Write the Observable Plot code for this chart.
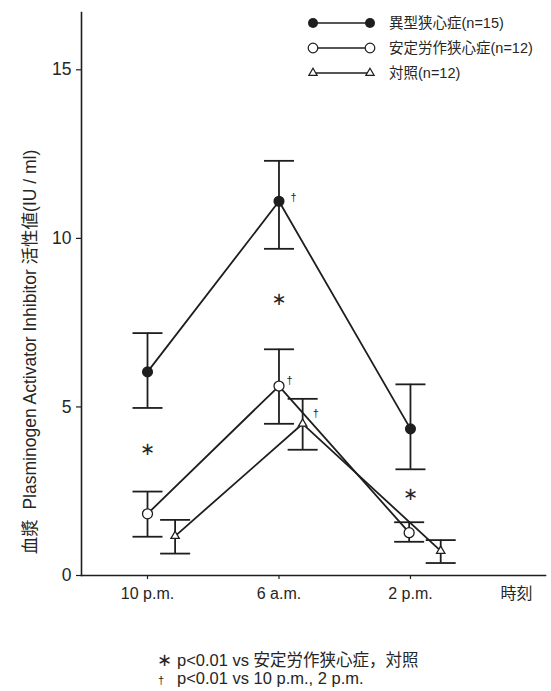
<!DOCTYPE html>
<html><head><meta charset="utf-8">
<script src="https://cdn.jsdelivr.net/npm/d3@7"></script>
<script src="https://cdn.jsdelivr.net/npm/@observablehq/plot@0.6"></script>
<style>
body{margin:0;background:#fff;}
#wrap{position:relative;width:551px;height:691px;font-family:"Liberation Sans","Noto Sans CJK JP",sans-serif;color:#262626;}
#wrap svg.plot{display:block;}
#legend{position:absolute;left:0;top:0;}
.cap{position:absolute;left:0;font-size:16.5px;white-space:nowrap;line-height:1;}
</style></head><body><div id="wrap"></div>
<script>
// ---- data ----
const times = ["10 p.m.", "6 a.m.", "2 p.m."];
const timeTicks = [0, 1, 2];
const seriesNames = ["異型狭心症(n=15)", "安定労作狭心症(n=12)", "対照(n=12)"];

const variantX = [0, 1, 2];
const variantMean = [6.04, 11.1, 4.35];
const variantLo = [4.97, 9.69, 3.15];
const variantHi = [7.19, 12.3, 5.67];

const stableX = [0, 1, 1.99];
const stableMean = [1.83, 5.62, 1.27];
const stableLo = [1.15, 4.50, 1.00];
const stableHi = [2.49, 6.71, 1.58];

const controlX = [0.21, 1.18, 2.23];
const controlMean = [1.17, 4.50, 0.73];
const controlLo = [0.65, 3.73, 0.37];
const controlHi = [1.65, 5.24, 1.05];

const starX = [0, 1, 2];
const starY = [3.75, 8.19, 2.40];
const daggerX = [1.11, 1.08, 1.28];
const daggerY = [11.2, 5.79, 4.8];

const yTicks = [0, 5, 10, 15];
const yLabel = "血漿  Plasminogen Activator Inhibitor 活性値(IU / ml)";
const xEndLabel = "時刻";
const footnotes = [
  {sym: "∗", text: "p<0.01 vs 安定労作狭心症，対照"},
  {sym: "†", text: "p<0.01 vs 10 p.m., 2 p.m."}
];

// ---- build table ----
function rows(name, xs, m, lo, hi) {
  return xs.map((x, i) => ({series: name, x, mean: m[i], lo: lo[i], hi: hi[i]}));
}
const variant = rows(seriesNames[0], variantX, variantMean, variantLo, variantHi);
const stable = rows(seriesNames[1], stableX, stableMean, stableLo, stableHi);
const control = rows(seriesNames[2], controlX, controlMean, controlLo, controlHi);
const all = [...variant, ...stable, ...control];
const stars = starX.map((x, i) => ({x, y: starY[i]}));
const daggers = daggerX.map((x, i) => ({x, y: daggerY[i]}));

const ink = "#1e1e1e";
const capSymbol = {draw(ctx) { ctx.moveTo(-15, 0); ctx.lineTo(15, 0); }};

const chart = Plot.plot({
  width: 551,
  height: 630,
  marginLeft: 81,
  marginRight: 6,
  marginTop: 12,
  marginBottom: 55,
  style: {fontFamily: '"Liberation Sans","Noto Sans CJK JP",sans-serif', color: "#262626", background: "white"},
  x: {domain: [-0.502, 3.027]},
  y: {domain: [0, 16.7]},
  marks: [
    Plot.frame({anchor: "left", stroke: ink, strokeWidth: 1.6}),
    Plot.frame({anchor: "bottom", stroke: ink, strokeWidth: 1.6}),
    Plot.axisY({ticks: yTicks, tickSize: 5, tickPadding: 5, fontSize: 17.5, label: null, stroke: ink, strokeWidth: 1.2}),
    Plot.axisX({ticks: timeTicks, tickFormat: d => times[d], tickSize: 4, tickPadding: 8, fontSize: 16, label: null, stroke: ink, strokeWidth: 1.2}),
    Plot.text([xEndLabel], {frameAnchor: "bottom-right", dx: -13, dy: 12, lineAnchor: "top", fontSize: 16, fill: "#262626"}),
    Plot.text([yLabel], {frameAnchor: "left", textAnchor: "middle", rotate: -90, dx: -51, dy: 58, fontSize: 17.5, fill: "#262626"}),
    Plot.ruleX(all, {x: "x", y1: "lo", y2: "hi", stroke: ink, strokeWidth: 1.8}),
    Plot.dot(all, {x: "x", y: "lo", symbol: capSymbol, fill: "none", stroke: ink, strokeWidth: 1.8}),
    Plot.dot(all, {x: "x", y: "hi", symbol: capSymbol, fill: "none", stroke: ink, strokeWidth: 1.8}),
    Plot.line(all, {x: "x", y: "mean", z: "series", stroke: ink, strokeWidth: 1.8}),
    Plot.dot(variant, {x: "x", y: "mean", r: 4.8, fill: ink, stroke: ink}),
    Plot.dot(stable, {x: "x", y: "mean", r: 5, fill: "white", stroke: ink, strokeWidth: 1.3}),
    Plot.dot(control, {x: "x", y: "mean", r: 3.1, symbol: "triangle", fill: "white", stroke: ink, strokeWidth: 1.3}),
    Plot.text(stars, {x: "x", y: "y", text: () => "∗", fontSize: 18, fill: "#262626", fontFamily: "DejaVu Sans"}),
    Plot.text(daggers, {x: "x", y: "y", text: () => "†", fontSize: 11, fill: "#262626"})
  ]
});
chart.classList.add("plot");
const wrap = document.getElementById("wrap");
wrap.appendChild(chart);

// ---- legend (top right) ----
const lg = d3.select(wrap).append("svg").attr("id", "legend").attr("width", 551).attr("height", 100);
const kinds = ["filled", "open", "tri"];
seriesNames.forEach((name, i) => {
  const y = 23 + 25 * i;
  const g = lg.append("g");
  g.append("line").attr("x1", 313).attr("x2", 370).attr("y1", y).attr("y2", y).attr("stroke", ink).attr("stroke-width", 1.4);
  [313, 370].forEach(x => {
    if (kinds[i] === "filled") g.append("circle").attr("cx", x).attr("cy", y).attr("r", 5).attr("fill", ink);
    else if (kinds[i] === "open") g.append("circle").attr("cx", x).attr("cy", y).attr("r", 4.8).attr("fill", "white").attr("stroke", ink).attr("stroke-width", 1.2);
    else g.append("path").attr("d", d3.symbol(d3.symbolTriangle, Math.PI * 3.1 * 3.1)()).attr("transform", `translate(${x},${y})`).attr("fill", "white").attr("stroke", ink).attr("stroke-width", 1.2);
  });
  g.append("text").attr("x", 389).attr("y", y).attr("dominant-baseline", "central")
    .attr("font-size", 14.5).attr("fill", "#262626")
    .style("font-family", '"Liberation Sans","Noto Sans CJK JP",sans-serif').text(name);
});

// ---- footnotes ----
footnotes.forEach((f, i) => {
  const top = 652 + 18 * i;
  const s = document.createElement("div");
  s.className = "cap";
  s.style.top = (top + (i === 1 ? 5 : -1)) + "px";
  s.style.left = (i === 0 ? 157 : 158) + "px";
  s.style.fontSize = i === 0 ? "18px" : "11px";
  if (i === 0) s.style.fontFamily = "DejaVu Sans";
  s.textContent = f.sym;
  wrap.appendChild(s);
  const t = document.createElement("div");
  t.className = "cap";
  t.style.top = top + "px";
  t.style.left = "177px";
  t.textContent = f.text;
  wrap.appendChild(t);
});
</script></body></html>
